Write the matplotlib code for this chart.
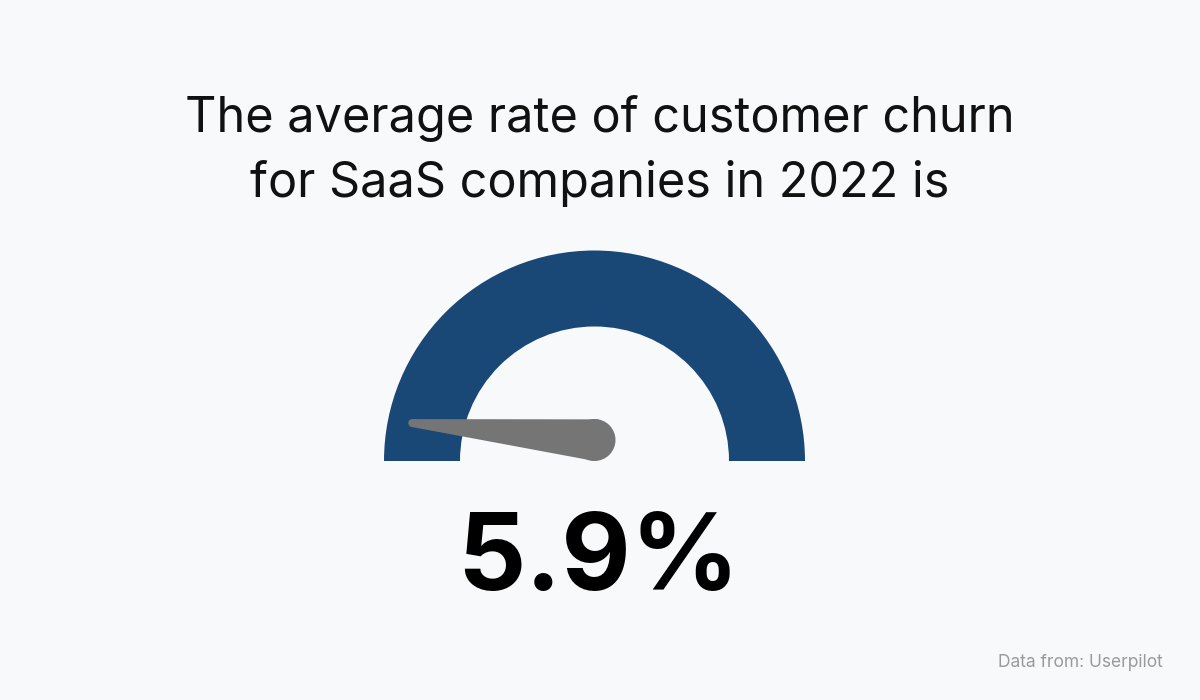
import numpy as np
import matplotlib
matplotlib.use("Agg")
import matplotlib.pyplot as plt
from matplotlib.patches import Wedge, Polygon, Circle

# ---- data ----
title_lines = ["The average rate of customer churn", "for SaaS companies in 2022 is"]
churn_value = 5.9          # percent
gauge_min = 0
gauge_max = 200            # scale of the gauge dial
value_label = "5.9%"
source_label = "Data from: Userpilot"

BG = "#f8f9fb"
BLUE = "#194877"
GREY = "#757575"

fig = plt.figure(figsize=(12, 7), dpi=100, facecolor=BG)
ax = fig.add_axes([0, 0, 1, 1])
ax.set_xlim(0, 1200)
ax.set_ylim(0, 700)
ax.set_aspect("equal")
ax.axis("off")
ax.set_facecolor(BG)

plt.rcParams["font.family"] = ["Inter", "DejaVu Sans"]

# title
ax.text(600, 700 - 132, title_lines[0], ha="center", va="baseline",
        fontsize=35, color="#111111", family=["Inter", "DejaVu Sans"])
ax.text(600, 700 - 197, title_lines[1], ha="center", va="baseline",
        fontsize=35, color="#111111", family=["Inter", "DejaVu Sans"])

# gauge arc
cx, cy = 594.5, 700 - 461
R_out, R_in = 210.5, 134.5
ax.add_patch(Wedge((cx, cy), R_out, 0, 180, width=R_out - R_in,
                   facecolor=BLUE, edgecolor="none"))

# needle
frac = (churn_value - gauge_min) / (gauge_max - gauge_min)
ang = np.pi - frac * np.pi
r_base, r_tip, length = 21.0, 4.0, 183.0
px, py = cx, cy + r_base
tx, ty = px + length * np.cos(ang), py + length * np.sin(ang)
phi = np.arcsin((r_base - r_tip) / length)
u = np.array([np.cos(ang), np.sin(ang)])
n = np.array([-np.sin(ang), np.cos(ang)])
pts = []
for s in (1, -1):
    nn = -np.sin(phi) * u + s * np.cos(phi) * n
    pts.append((np.array([px, py]) + r_base * nn, np.array([tx, ty]) + r_tip * nn))
poly = [pts[0][0], pts[0][1], pts[1][1], pts[1][0]]
ax.add_patch(Polygon(poly, closed=True, facecolor=GREY, edgecolor="none"))
ax.add_patch(Circle((px, py), r_base, facecolor=GREY, edgecolor="none"))
ax.add_patch(Circle((tx, ty), r_tip, facecolor=GREY, edgecolor="none"))

# big value
ax.text(598, 700 - 590, value_label, ha="center", va="baseline",
        fontsize=77, fontweight="bold", color="#000000",
        family=["Inter", "DejaVu Sans"])

# source
ax.text(1163, 700 - 667, source_label, ha="right", va="baseline",
        fontsize=12.5, color="#9a9a9a", family=["Inter", "DejaVu Sans"])

fig.savefig("out.png", dpi=100, facecolor=BG)
